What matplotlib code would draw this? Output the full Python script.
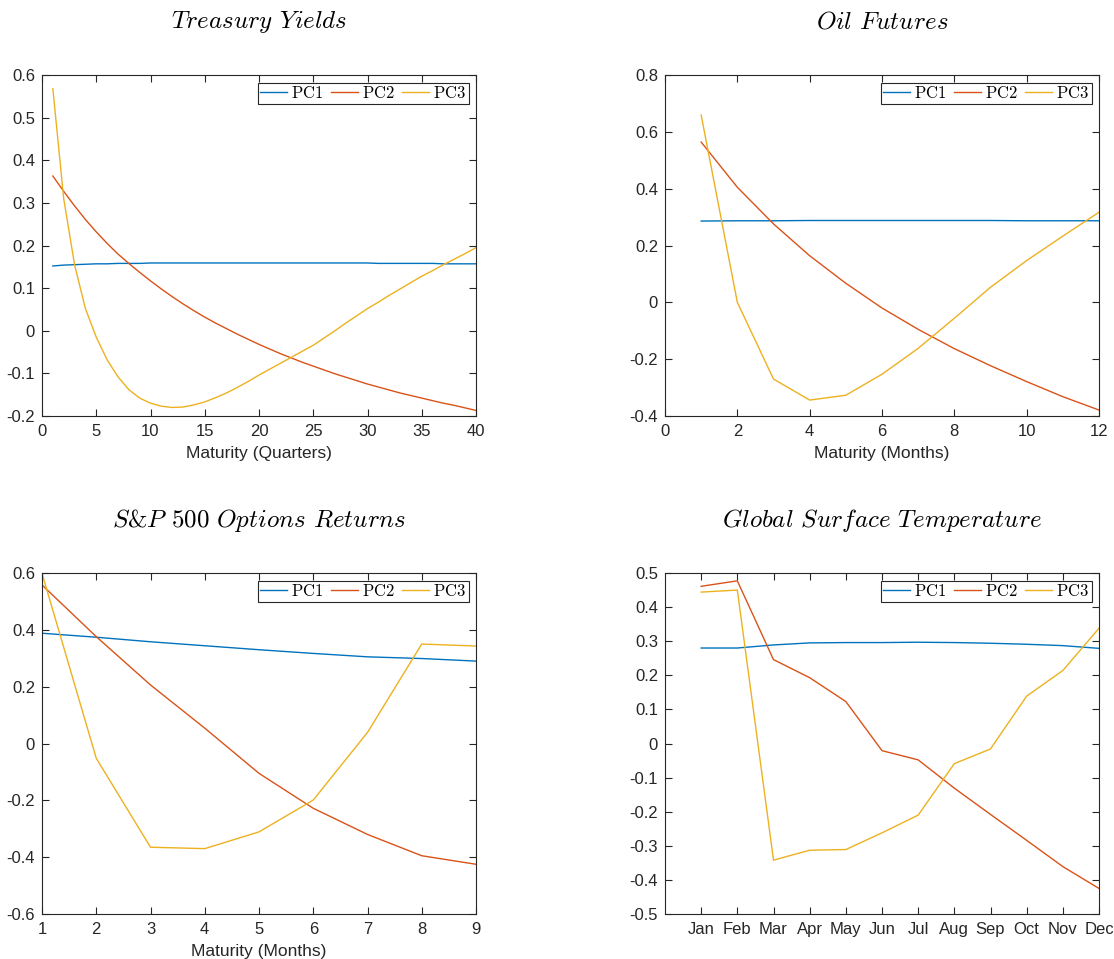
import numpy as np
import matplotlib
matplotlib.use('Agg')
import matplotlib.pyplot as plt
from matplotlib.ticker import FuncFormatter

plt.rcParams['mathtext.fontset'] = 'cm'
plt.rcParams['font.family'] = 'Liberation Sans'
plt.rcParams['axes.unicode_minus'] = False

# MATLAB default line colours
c1, c2, c3 = '#0072BD', '#D95319', '#EDB120'

# --- Treasury yields, maturity in quarters ---
ty_x = np.arange(1, 41)
ty_pc1 = [0.152, 0.154, 0.155, 0.156, 0.157, 0.157, 0.158, 0.158, 0.158, 0.159,
          0.159, 0.159, 0.159, 0.159, 0.159, 0.159, 0.159, 0.159, 0.159, 0.159,
          0.159, 0.159, 0.159, 0.159, 0.159, 0.159, 0.159, 0.159, 0.159, 0.159,
          0.158, 0.158, 0.158, 0.158, 0.158, 0.158, 0.157, 0.157, 0.157, 0.157]
ty_pc2 = [0.363, 0.327, 0.293, 0.261, 0.232, 0.205, 0.180, 0.158, 0.137, 0.117,
          0.098, 0.080, 0.063, 0.047, 0.032, 0.018, 0.005, -0.008, -0.020, -0.032,
          -0.043, -0.054, -0.064, -0.074, -0.083, -0.092, -0.101, -0.109, -0.117, -0.125,
          -0.132, -0.139, -0.146, -0.152, -0.158, -0.164, -0.170, -0.175, -0.181, -0.187]
ty_pc3 = [0.568, 0.310, 0.155, 0.052, -0.015, -0.068, -0.108, -0.138, -0.158, -0.170,
          -0.177, -0.180, -0.179, -0.174, -0.167, -0.157, -0.146, -0.133, -0.119, -0.104,
          -0.090, -0.076, -0.062, -0.048, -0.034, -0.017, 0.000, 0.018, 0.035, 0.052,
          0.067, 0.083, 0.098, 0.113, 0.128, 0.141, 0.155, 0.168, 0.181, 0.195]

# --- Oil futures, maturity in months ---
oil_x = np.arange(1, 13)
oil_pc1 = [0.286, 0.287, 0.287, 0.288, 0.288, 0.288, 0.288, 0.288, 0.288, 0.287, 0.287, 0.287]
oil_pc2 = [0.564, 0.405, 0.276, 0.164, 0.067, -0.020, -0.095, -0.163, -0.223, -0.279, -0.332, -0.379]
oil_pc3 = [0.659, 0.000, -0.270, -0.344, -0.327, -0.253, -0.162, -0.056, 0.053, 0.147, 0.233, 0.317]

# --- S&P 500 options returns ---
sp_x = np.arange(1, 10)
sp_pc1 = [0.388, 0.374, 0.358, 0.344, 0.330, 0.317, 0.305, 0.299, 0.290]
sp_pc2 = [0.558, 0.376, 0.206, 0.054, -0.105, -0.228, -0.320, -0.395, -0.425]
sp_pc3 = [0.599, -0.052, -0.365, -0.370, -0.311, -0.199, 0.039, 0.350, 0.343]

# --- Global surface temperature, by month ---
months = ['Jan', 'Feb', 'Mar', 'Apr', 'May', 'Jun', 'Jul', 'Aug', 'Sep', 'Oct', 'Nov', 'Dec']
gt_x = np.arange(1, 13)
gt_pc1 = [0.280, 0.280, 0.289, 0.295, 0.296, 0.296, 0.297, 0.296, 0.294, 0.291, 0.287, 0.279]
gt_pc2 = [0.461, 0.477, 0.246, 0.193, 0.123, -0.021, -0.048, -0.131, -0.208, -0.284, -0.361, -0.425]
gt_pc3 = [0.444, 0.450, -0.342, -0.313, -0.311, -0.262, -0.210, -0.059, -0.016, 0.139, 0.214, 0.338]

W, H = 1114, 959
fig = plt.figure(figsize=(W / 100, H / 100), dpi=100)

def make_ax(left, top, right, bottom):
    return fig.add_axes([left / W, 1 - bottom / H, (right - left) / W, (bottom - top) / H])

def tickfmt(v, p):
    v = round(v, 6)
    if v == 0:
        return '0'
    return '%g' % v

fmt = FuncFormatter(tickfmt)

def style(ax, title, x, pcs, xlim, ylim, yticks, xticks, xlabel=None, xticklabels=None):
    for y, c, lab in zip(pcs, (c1, c2, c3), ('PC1', 'PC2', 'PC3')):
        ax.plot(x, y, color=c, lw=1.0, label=r'$\mathrm{%s}$' % lab)
    ax.set_xlim(xlim)
    ax.set_ylim(ylim)
    ax.set_yticks(yticks)
    ax.set_xticks(xticks)
    ax.yaxis.set_major_formatter(fmt)
    if xticklabels is not None:
        ax.set_xticklabels(xticklabels)
    else:
        ax.xaxis.set_major_formatter(fmt)
    ax.tick_params(direction='in', top=True, right=True, length=5, width=0.8,
                   labelsize=12, colors='#262626')
    ax.tick_params(axis='x', pad=6)
    ax.tick_params(axis='y', pad=5)
    for s in ax.spines.values():
        s.set_color('#262626')
        s.set_linewidth(0.8)
    if xlabel:
        ax.set_xlabel(xlabel, fontsize=12.5, color='#262626', labelpad=5)
    ax.text(0.5, 1.155, title, transform=ax.transAxes, ha='center', va='center',
            fontsize=18, family='cmr10')
    leg = ax.legend(loc='upper right', ncol=3, fontsize=12, frameon=True, fancybox=False,
                    handlelength=1.6, handletextpad=0.25, columnspacing=0.45,
                    borderpad=0.15, borderaxespad=0.45, framealpha=1)
    leg.get_frame().set_edgecolor('#262626')
    leg.get_frame().set_linewidth(0.8)

ax1 = make_ax(42, 75, 476, 416)
style(ax1, r'$\mathit{Treasury}$ $\mathit{Yields}$', ty_x, (ty_pc1, ty_pc2, ty_pc3), (0, 40),
      (-0.2, 0.6), np.arange(-0.2, 0.61, 0.1), np.arange(0, 41, 5), 'Maturity (Quarters)')

ax2 = make_ax(665, 75, 1099, 416)
style(ax2, r'$\mathit{Oil}$ $\mathit{Futures}$', oil_x, (oil_pc1, oil_pc2, oil_pc3), (0, 12),
      (-0.4, 0.8), np.arange(-0.4, 0.81, 0.2), np.arange(0, 13, 2), 'Maturity (Months)')

ax3 = make_ax(42, 573, 476, 914)
style(ax3, r'$\mathit{S}$&$\mathit{P}$ $\mathit{500}$ $\mathit{Options}$ $\mathit{Returns}$', sp_x,
      (sp_pc1, sp_pc2, sp_pc3), (1, 9), (-0.6, 0.6), np.arange(-0.6, 0.61, 0.2),
      np.arange(1, 10), 'Maturity (Months)')

ax4 = make_ax(665, 573, 1099, 914)
style(ax4, r'$\mathit{Global}$ $\mathit{Surface}$ $\mathit{Temperature}$', gt_x,
      (gt_pc1, gt_pc2, gt_pc3), (0, 12), (-0.5, 0.5), np.arange(-0.5, 0.51, 0.1), gt_x, None, months)

fig.savefig('out.png', dpi=100)
